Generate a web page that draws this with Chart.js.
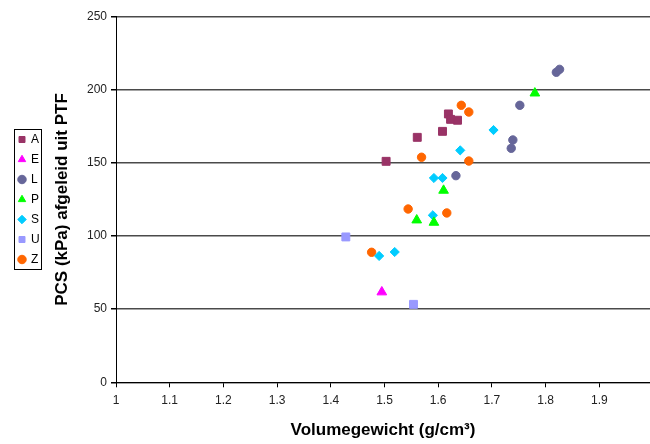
<!DOCTYPE html>
<html>
<head>
<meta charset="utf-8">
<script src="https://cdn.jsdelivr.net/npm/chart.js@4/dist/chart.umd.min.js"></script>
<style>
  html, body { margin: 0; padding: 0; background: #ffffff; }
  #wrap { width: 650px; height: 444px; position: relative; }
</style>
</head>
<body>
<div id="wrap"><canvas id="c" width="650" height="444"></canvas></div>
<script>
// ---- data ----
const seriesNames = ['A', 'E', 'L', 'P', 'S', 'U', 'Z'];
const seriesA = [[1.503, 151.1], [1.561, 167.5], [1.608, 171.6], [1.619, 183.5], [1.623, 179.8], [1.636, 179.2]];
const seriesE = [[1.495, 61.7]];
const seriesL = [[1.633, 141.3], [1.736, 160.0], [1.739, 165.7], [1.752, 189.4], [1.820, 212.0], [1.826, 214.0]];
const seriesP = [[1.560, 110.9], [1.592, 109.3], [1.610, 131.2], [1.780, 197.7]];
const seriesS = [[1.490, 86.4], [1.519, 89.1], [1.590, 114.2], [1.592, 139.7], [1.608, 139.7], [1.641, 158.6], [1.703, 172.5]];
const seriesU = [[1.428, 99.4], [1.554, 53.3]];
const seriesZ = [[1.476, 88.9], [1.544, 118.5], [1.569, 153.9], [1.616, 115.8], [1.643, 189.4], [1.657, 184.8], [1.657, 151.3]];
const xTickValues = [1, 1.1, 1.2, 1.3, 1.4, 1.5, 1.6, 1.7, 1.8, 1.9];
const yTickValues = [0, 50, 100, 150, 200, 250];
const xTitle = 'Volumegewicht (g/cm³)';
const yTitle = 'PCS (kPa) afgeleid uit PTF';

// ---- styling ----
const seriesData = [seriesA, seriesE, seriesL, seriesP, seriesS, seriesU, seriesZ];
const seriesColors = ['#993366', '#FF00FF', '#666699', '#00FF00', '#00CCFF', '#9999FF', '#FF6600'];
const seriesStyles = ['rect', 'triangle', 'circle', 'triangle', 'rectRot', 'rect', 'circle'];
const styleRadius = { rect: 5.6, triangle: 5.6, circle: 4.2, rectRot: 4.6 };
const FONT = "'Liberation Sans', Arial, sans-serif";
const PAD_LEFT = 11;
const AREA = { left: 116, right: 650, top: 16.7, bottom: 382.3 };

const datasets = seriesNames.map((name, i) => ({
  label: name,
  data: seriesData[i].map(p => ({ x: p[0], y: p[1] })),
  pointStyle: seriesStyles[i],
  pointRadius: styleRadius[seriesStyles[i]],
  pointHoverRadius: styleRadius[seriesStyles[i]],
  backgroundColor: seriesColors[i],
  borderColor: seriesColors[i],
  borderWidth: 1,
  showLine: false
}));

// pin the plot area to the reference's plot rectangle
const pinArea = {
  id: 'pinArea',
  afterLayout(chart) {
    const ca = chart.chartArea;
    ca.left = AREA.left; ca.right = AREA.right; ca.top = AREA.top; ca.bottom = AREA.bottom;
    ca.width = ca.right - ca.left; ca.height = ca.bottom - ca.top;
    const xs = chart.scales.x, ys = chart.scales.y;
    xs.left = AREA.left; xs.right = AREA.right; xs.width = xs.right - xs.left;
    xs.top = AREA.bottom; xs.height = xs.bottom - xs.top;
    ys.top = AREA.top; ys.bottom = AREA.bottom; ys.height = ys.bottom - ys.top;
    ys.right = AREA.left; ys.width = ys.right - ys.left;
    xs.configure(); ys.configure();
  }
};

const legendBorder = {
  id: 'legendBorder',
  afterDraw(chart) {
    const lg = chart.legend;
    if (!lg || !lg.legendHitBoxes || !lg.legendHitBoxes.length) return;
    const hb = lg.legendHitBoxes;
    const left = hb[0].left;
    const top = hb[0].top;
    const lastTop = hb[hb.length - 1].top;
    const ctx = chart.ctx;
    ctx.save();
    ctx.strokeStyle = '#000000';
    ctx.lineWidth = 1;
    ctx.strokeRect(Math.round(left - 5) + 0.5, Math.round(top - 5) + 0.5, 27, Math.round(lastTop + 15 - (top - 5)));
    ctx.restore();
  }
};

new Chart(document.getElementById('c'), {
  type: 'scatter',
  data: { datasets },
  plugins: [pinArea, legendBorder],
  options: {
    responsive: false,
    animation: false,
    events: [],
    layout: { padding: { left: PAD_LEFT, top: 16.7, right: 0, bottom: 0 } },
    plugins: {
      tooltip: { enabled: false },
      legend: {
        position: 'left',
        fullSize: false,
        align: 'center',
        labels: {
          usePointStyle: true,
          boxWidth: 6,
          boxHeight: 6,
          padding: 8,
          color: '#000000',
          font: { family: FONT, size: 12 }
        }
      }
    },
    scales: {
      x: {
        type: 'linear',
        min: 1,
        max: 1.9944,
        afterBuildTicks(scale) {
          scale.ticks = xTickValues.map(v => ({ value: v }));
        },
        afterFit(scale) {
          scale.height = 61.7;
          scale.paddingLeft = 0;
          scale.paddingRight = 0;
        },
        ticks: {
          color: '#222222',
          font: { family: FONT, size: 12 },
          padding: 6,
          maxRotation: 0,
          autoSkip: false,
          callback: v => String(+(+v).toFixed(1))
        },
        grid: { display: true, drawOnChartArea: false, drawTicks: true, tickLength: 5, color: '#000000', tickColor: '#000000' },
        border: { display: true, color: '#000000', width: 1 },
        title: {
          display: true,
          text: xTitle,
          color: '#000000',
          font: { family: FONT, size: 17, weight: 'bold' },
          padding: { top: 0, bottom: 3 }
        }
      },
      y: {
        type: 'linear',
        min: 0,
        max: 250,
        afterBuildTicks(scale) {
          scale.ticks = yTickValues.map(v => ({ value: v }));
        },
        afterFit(scale) {
          const lw = scale.chart.legend ? scale.chart.legend.width : 30;
          scale.width = AREA.left - PAD_LEFT - lw;
          scale.paddingTop = 0;
          scale.paddingBottom = 0;
        },
        ticks: {
          color: '#222222',
          font: { family: FONT, size: 12 },
          padding: 4
        },
        grid: {
          display: true,
          drawTicks: true,
          tickLength: 5,
          lineWidth: 1.5,
          color: '#4a4a4a',
          tickColor: '#000000'
        },
        border: { display: true, color: '#000000', width: 1 },
        title: {
          display: true,
          text: yTitle,
          color: '#000000',
          font: { family: FONT, size: 17, weight: 'bold' },
          padding: { top: 2, bottom: 0 }
        }
      }
    }
  }
});
</script>
</body>
</html>
